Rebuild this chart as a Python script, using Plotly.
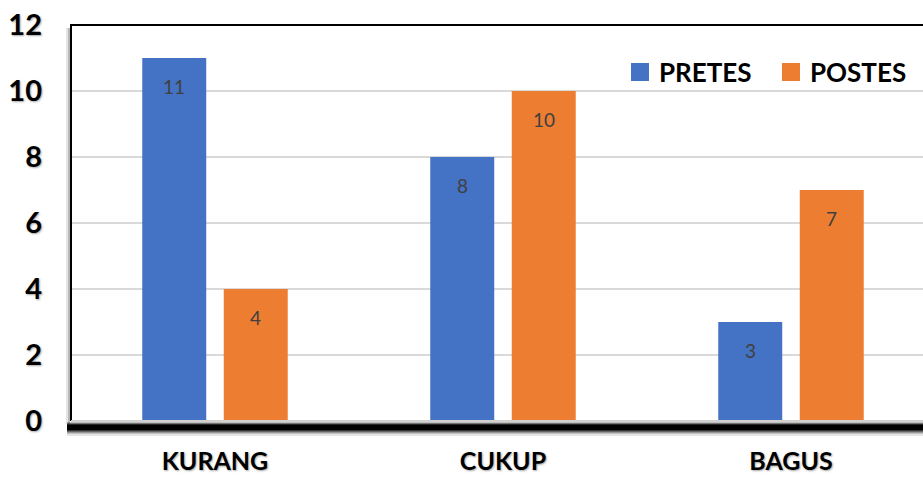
import plotly.graph_objects as go

# Data
categories = ["KURANG", "CUKUP", "BAGUS"]
pretes = [11, 8, 3]
postes = [4, 10, 7]
y_ticks = [0, 2, 4, 6, 8, 10, 12]
series_names = ["PRETES", "POSTES"]

BLUE = "#4472C4"
ORANGE = "#ED7D31"
FONT = "Lato"

W, H = 923, 477
M_L, M_T, M_B, M_R = 71, 25, 56, 0
PW = W - M_L - M_R
PH = H - M_T - M_B
CAT_PX = 288  # pixel width of one category slot
X_MAX = -0.5 + PW / CAT_PX

BARGAP = 0.434
BARGROUPGAP = 0.215
slot = (1 - BARGAP) / 2

x_idx = list(range(len(categories)))

fig = go.Figure()
fig.add_trace(go.Bar(name=series_names[0], x=x_idx, y=pretes, marker_color=BLUE,
                     marker_line_width=0, showlegend=False))
fig.add_trace(go.Bar(name=series_names[1], x=x_idx, y=postes, marker_color=ORANGE,
                     marker_line_width=0, showlegend=False))

# value labels placed inside the top of each bar
annotations = []
for series, off in ((pretes, -slot / 2), (postes, slot / 2)):
    for i, v in enumerate(series):
        annotations.append(dict(
            x=i + off, y=v, xref="x", yref="y", text=str(v), showarrow=False,
            yshift=-28, font=dict(family=FONT, size=19, color="#404040")))

def px_x(p):
    return (p - M_L) / PW

def px_y(p):
    return (H - M_B - p) / PH

shapes = []
# shadow under the baseline
bottom_bands = [(422, 423, 0.25), (423, 424, 0.55), (424, 425, 0.85),
                (425, 430, 1.0), (430, 431, 0.8), (431, 432, 0.6),
                (432, 433, 0.4), (433, 434, 0.25), (434, 436, 0.1)]
for y0, y1, op in bottom_bands:
    shapes.append(dict(type="rect", xref="paper", yref="paper",
                       x0=px_x(67), x1=1.02, y0=px_y(y1), y1=px_y(y0),
                       fillcolor="black", opacity=op, line_width=0, layer="above"))
# soft shadow left of the value axis
left_bands = [(66, 68, 0.1), (68, 70, 0.28)]
for x0, x1, op in left_bands:
    shapes.append(dict(type="rect", xref="paper", yref="paper",
                       x0=px_x(x0), x1=px_x(x1), y0=px_y(424), y1=px_y(28),
                       fillcolor="black", opacity=op, line_width=0, layer="above"))
# frame: left and top edges
shapes.append(dict(type="line", xref="paper", yref="paper",
                   x0=px_x(71), x1=px_x(71), y0=px_y(421), y1=px_y(25),
                   line=dict(color="black", width=2), layer="above"))
shapes.append(dict(type="line", xref="paper", yref="paper",
                   x0=px_x(70), x1=1.0, y0=px_y(25), y1=px_y(25),
                   line=dict(color="black", width=2), layer="above"))
# baseline
shapes.append(dict(type="line", xref="paper", yref="paper",
                   x0=px_x(71), x1=1.0, y0=px_y(421), y1=px_y(421),
                   line=dict(color="#d0d0d0", width=2), layer="above"))

# legend: colour squares with bold labels
legend_items = [(series_names[0], BLUE, 631), (series_names[1], ORANGE, 782)]
for name, color, x_px in legend_items:
    shapes.append(dict(type="rect", xref="paper", yref="paper",
                       x0=px_x(x_px), x1=px_x(x_px + 18),
                       y0=px_y(81), y1=px_y(63),
                       fillcolor=color, line_width=0, layer="above"))
    annotations.append(dict(
        x=px_x(x_px + 26), y=px_y(72), xref="paper", yref="paper",
        xanchor="left", yanchor="middle", text=name, showarrow=False,
        font=dict(family=FONT, size=26, color="black", weight="bold")))

fig.update_layout(
    width=W, height=H,
    margin=dict(l=M_L, r=M_R, t=M_T, b=M_B, pad=0, autoexpand=False),
    paper_bgcolor="white", plot_bgcolor="white",
    barmode="group", bargap=BARGAP, bargroupgap=BARGROUPGAP,
    font=dict(family=FONT, color="black"),
    showlegend=False,
    annotations=annotations,
    shapes=shapes,
    xaxis=dict(
        tickmode="array", tickvals=x_idx, ticktext=categories,
        range=[-0.5, X_MAX], showgrid=False, zeroline=False, showline=False,
        ticks="", ticklabelstandoff=23, automargin=False,
        tickfont=dict(family=FONT, size=25, color="black", weight="bold",
                      shadow="1px 1px 2px rgba(0,0,0,0.35)"),
    ),
    yaxis=dict(
        range=[0, 12], tickvals=y_ticks, showgrid=True, gridcolor="#d9d9d9",
        gridwidth=2, zeroline=False, showline=False, ticks="",
        ticklabelstandoff=28, automargin=False,
        tickfont=dict(family=FONT, size=29, color="black", weight="bold",
                      shadow="1px 1px 2px rgba(0,0,0,0.35)"),
    ),
)

fig.write_html("out.html")
